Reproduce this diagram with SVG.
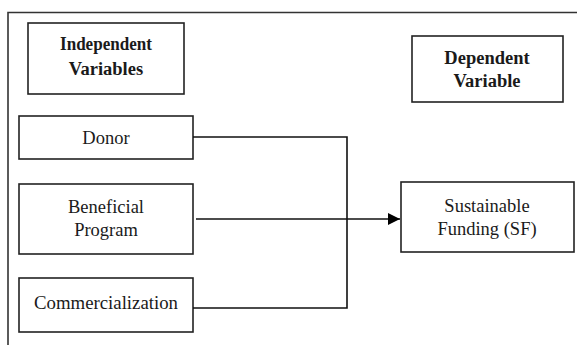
<svg xmlns="http://www.w3.org/2000/svg" width="577" height="345" viewBox="0 0 577 345">
<defs>
<style>
.box{fill:#fff;stroke:#222;stroke-width:1.6}
.frame{fill:none;stroke:#333;stroke-width:1.6}
text{font-family:'Liberation Serif','Times New Roman',serif;font-size:18.5px;fill:#1a1a1a;text-anchor:middle}
.b{font-weight:bold;font-size:18.5px}
.c{fill:none;stroke:#111;stroke-width:1.6}
</style>
<marker id="arr" markerWidth="12" markerHeight="12" refX="12" refY="6" orient="auto" markerUnits="userSpaceOnUse">
<path d="M0,0 L12,6 L0,12 Z" fill="#000"/>
</marker>
</defs>
<path class="frame" d="M8,345 L8,12.5 L577,12.5"/>
<g id="independent">
<rect class="box" x="28" y="23" width="156" height="71"/>
<text class="b" x="106" y="50" textLength="92" lengthAdjust="spacingAndGlyphs">Independent</text>
<text class="b" x="106" y="75">Variables</text>
</g>
<g id="dependent">
<rect class="box" x="412" y="36" width="151" height="66"/>
<text class="b" x="487" y="64">Dependent</text>
<text class="b" x="487" y="87">Variable</text>
</g>
<g id="donor">
<rect class="box" x="19" y="116" width="174" height="43"/>
<text x="106" y="144">Donor</text>
</g>
<g id="beneficial">
<rect class="box" x="19" y="184" width="174" height="70"/>
<text x="106" y="213">Beneficial</text>
<text x="106" y="236">Program</text>
</g>
<g id="commercialization">
<rect class="box" x="19" y="278" width="174" height="54"/>
<text x="106" y="309" textLength="144" lengthAdjust="spacingAndGlyphs">Commercialization</text>
</g>
<g id="sf">
<rect class="box" x="401" y="182" width="173" height="70"/>
<text x="487" y="212">Sustainable</text>
<text x="487" y="235">Funding (SF)</text>
</g>
<g id="connectors">
<path class="c" d="M193,137 L347,137 L347,308 L193,308"/>
<path class="c" d="M196,219 L400,219" marker-end="url(#arr)"/>
</g>
</svg>
